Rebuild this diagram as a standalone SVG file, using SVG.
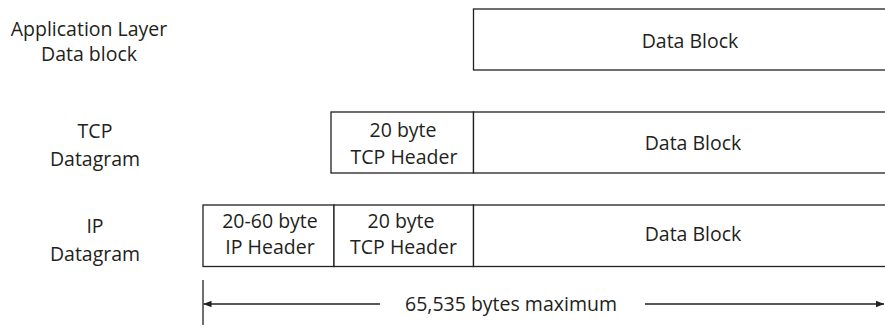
<svg xmlns="http://www.w3.org/2000/svg" width="885" height="325" viewBox="0 0 885 325">
  <style>
    text { font-family: "Open Sans", "Noto Sans", sans-serif; font-size: 19.5px; fill: #231f20; text-anchor: middle; }
    .box { fill: #ffffff; stroke: #231f20; stroke-width: 1.3; }
    .line { stroke: #231f20; stroke-width: 1.3; fill: none; }
  </style>
  <defs>
    <marker id="arrow" viewBox="0 0 10 10" refX="10" refY="5" markerWidth="8" markerHeight="8" markerUnits="userSpaceOnUse" orient="auto-start-reverse">
      <path d="M0,1 L10,5 L0,9 Z" fill="#231f20"/>
    </marker>
  </defs>
  <rect width="885" height="325" fill="#ffffff"/>

  <!-- row labels -->
  <g id="label-app">
    <text x="89" y="36">Application Layer</text>
    <text x="89" y="61">Data block</text>
  </g>
  <g id="label-tcp">
    <text x="95" y="138">TCP</text>
    <text x="95" y="165.5">Datagram</text>
  </g>
  <g id="label-ip">
    <text x="95" y="232.5">IP</text>
    <text x="95" y="260.5">Datagram</text>
  </g>

  <!-- application data block -->
  <g id="app-data">
    <rect class="box" x="473.5" y="9" width="420" height="61"/>
    <text x="690" y="47.5">Data Block</text>
  </g>

  <!-- TCP datagram -->
  <g id="tcp-header">
    <rect class="box" x="331" y="112" width="142.5" height="61"/>
    <text x="403" y="137">20 byte</text>
    <text x="404" y="164">TCP Header</text>
  </g>
  <g id="tcp-data">
    <rect class="box" x="473.5" y="112" width="420" height="61"/>
    <text x="693" y="150">Data Block</text>
  </g>

  <!-- IP datagram -->
  <g id="ip-header">
    <rect class="box" x="203" y="205" width="131" height="61.5"/>
    <text x="270" y="228">20-60 byte</text>
    <text x="270" y="254">IP Header</text>
  </g>
  <g id="ip-tcp-header">
    <rect class="box" x="334" y="205" width="139.5" height="61.5"/>
    <text x="401" y="228">20 byte</text>
    <text x="403.5" y="254">TCP Header</text>
  </g>
  <g id="ip-data">
    <rect class="box" x="473.5" y="205" width="420" height="61.5"/>
    <text x="693" y="241">Data Block</text>
  </g>

  <!-- size dimension -->
  <g id="connectors">
    <line class="line" x1="203" y1="280" x2="203" y2="325"/>
    <line class="line" x1="380" y1="304" x2="203.5" y2="304" marker-end="url(#arrow)"/>
    <line class="line" x1="645" y1="304" x2="884" y2="304" marker-end="url(#arrow)"/>
  </g>
  <g id="dimension-label">
    <text x="511" y="310.5">65,535 bytes maximum</text>
  </g>
</svg>
